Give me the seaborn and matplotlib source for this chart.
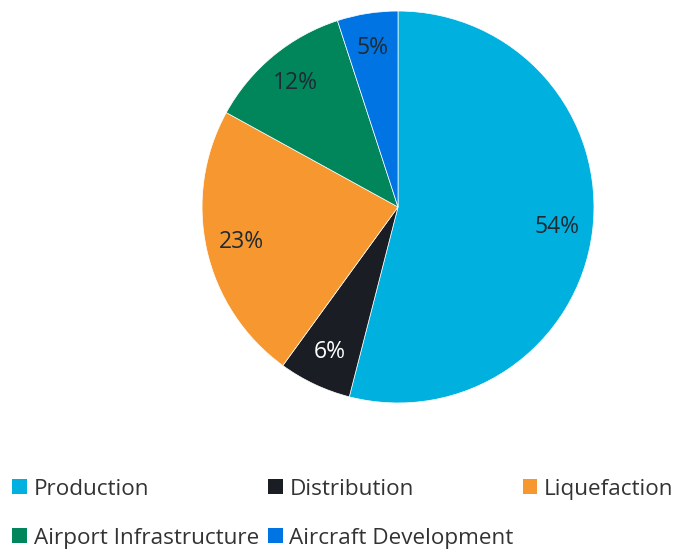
import matplotlib
matplotlib.use("Agg")
import matplotlib.pyplot as plt
import seaborn as sns
from matplotlib.patches import Patch

categories = ["Production", "Distribution", "Liquefaction",
              "Airport Infrastructure", "Aircraft Development"]
shares = [54, 6, 23, 12, 5]
colors = ["#00B0DE", "#1A1E24", "#F7972F", "#00865A", "#0074E2"]
label_colors = ["#1F2A33", "#FFFFFF", "#1F2A33", "#1F2A33", "#1F2A33"]

sns.set_theme(style="white")
plt.rcParams["font.family"] = ["Open Sans", "DejaVu Sans"]

fig = plt.figure(figsize=(6.94, 5.52), dpi=100)
ax = fig.add_axes([0.291, 0.270, 0.565, 0.710])

wedges, texts, autotexts = ax.pie(
    shares, colors=colors, startangle=90, counterclock=False,
    autopct="%d%%", pctdistance=0.82,
    wedgeprops=dict(linewidth=0.5, edgecolor="white"),
    textprops=dict(fontsize=16.5),
)
for t, c in zip(autotexts, label_colors):
    t.set_color(c)
ax.set_xlim(-1, 1)
ax.set_ylim(-1, 1)
ax.set_aspect("equal")

handles = [Patch(facecolor=c, edgecolor="none") for c in colors]
# order legend row-wise like the original (3 columns)
order = [0, 3, 1, 4, 2]
fig.legend([handles[i] for i in order], [categories[i] for i in order],
           loc="upper left", bbox_to_anchor=(0.005, 0.149), ncol=3,
           frameon=False, fontsize=16.2, handlelength=0.65, handleheight=0.65,
           handletextpad=0.3, columnspacing=0.4, labelspacing=1.25,
           borderaxespad=0, labelcolor="#333333")

fig.savefig("out.png", dpi=100)
